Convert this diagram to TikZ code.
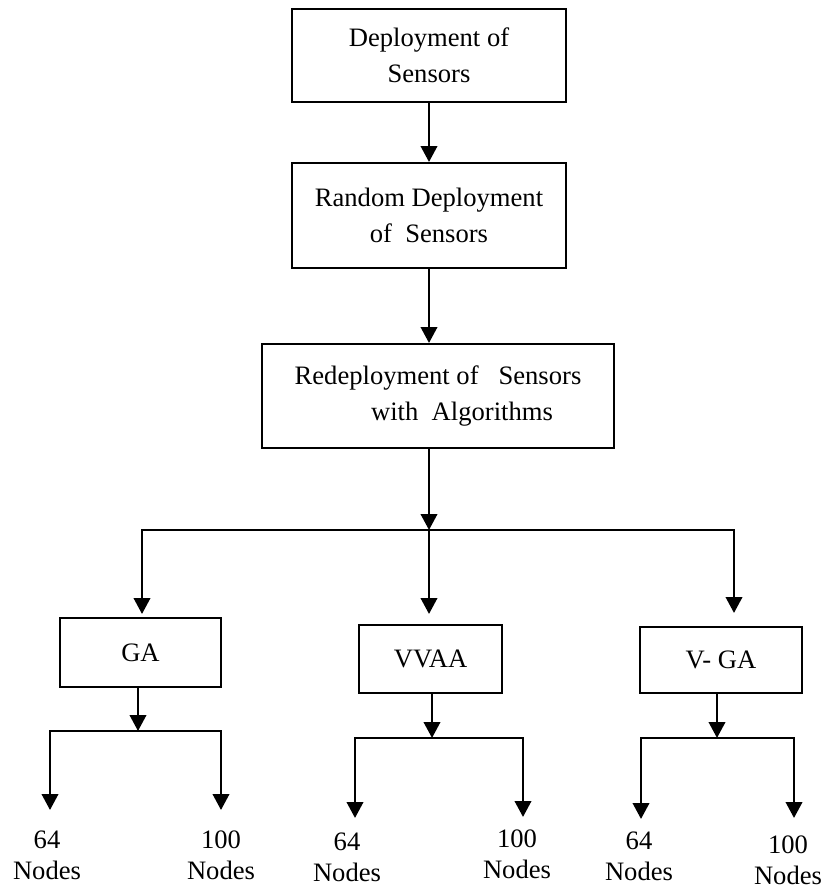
\documentclass[tikz,border=0pt]{standalone}
\usepackage{fontspec}
\setmainfont{Liberation Serif}
\usetikzlibrary{arrows.meta, positioning}

\begin{document}
\begin{tikzpicture}[
    x=0.5pt, y=-0.5pt,
    box/.style={
        rectangle,
        draw=black,
        line width=1pt,
        align=center,
        inner sep=0pt,
        font=\fontsize{13.3}{18}\selectfont
    },
    count/.style={
        align=center,
        inner sep=0pt,
        anchor=north,
        font=\fontsize{13.3}{15.5}\selectfont
    },
    line/.style={
        draw,
        -{Triangle[length=8pt,width=8.2pt]},
        line width=1.3pt
    },
    bar/.style={
        draw,
        line cap=rect,
        line width=1.3pt
    }
]
\useasboundingbox (0,0) rectangle (823,888);

% Nodes
\node [box, minimum width=137pt, minimum height=46.5pt] (deploy) at (429,55.5) {Deployment of\\Sensors};
\node [box, below=29.5pt of deploy, minimum width=137pt, minimum height=52.5pt] (random) {Random Deployment\\of~~Sensors};
\node [box, below=37pt of random, xshift=4.5pt, minimum width=176pt, minimum height=52pt] (redeploy) {Redeployment of~~~Sensors\\\hspace*{24pt}with~~Algorithms};

% Algorithm layer
\node [box, minimum width=80.5pt, minimum height=34.5pt] (ga) at (140.5,652.5) {GA};
\node [box, minimum width=71.5pt, minimum height=34pt] (vvaa) at (430.5,659) {VVAA};
\node [box, minimum width=81pt, minimum height=33pt] (vga) at (721,660) {V- GA};

% Node counts
\node [count] (ga64) at (47,830) {64\\Nodes};
\node [count] (ga100) at (221,830) {100\\Nodes};
\node [count] (vvaa64) at (347,832) {64\\Nodes};
\node [count] (vvaa100) at (517,829) {100\\Nodes};
\node [count] (vga64) at (639,831) {64\\Nodes};
\node [count] (vga100) at (788,835) {100\\Nodes};

% Junctions
\coordinate (split) at (429,530);
\coordinate (splitL) at (142,530);
\coordinate (splitR) at (734,530);
\coordinate (gaJ) at (138,731);
\coordinate (gaL) at (50,731);
\coordinate (gaR) at (221,731);
\coordinate (vvaaJ) at (432,738);
\coordinate (vvaaL) at (355,738);
\coordinate (vvaaR) at (523,738);
\coordinate (vgaJ) at (717,738);
\coordinate (vgaL) at (641,738);
\coordinate (vgaR) at (794,738);

% Connections
\path [line] (deploy) -- (random);
\path [line] (random.south) -- (random.south |- redeploy.north);
\path [line] (redeploy.south -| split) -- (split);

% Split to algorithms
\path [bar] (splitL) -- (splitR);
\path [line, shorten >=1.5pt] (splitL) -- (splitL |- ga.north);
\path [line, shorten >=5pt] (split) -- (split |- vvaa.north);
\path [line, shorten >=6.5pt] (splitR) -- (splitR |- vga.north);

% GA branch
\path [line] (gaJ |- ga.south) -- (gaJ);
\path [bar] (gaL) -- (gaR);
\path [line, shorten >=10pt] (gaL) -- (gaL |- ga64.north);
\path [line, shorten >=10pt] (gaR) -- (gaR |- ga100.north);

% VVAA branch
\path [line] (vvaaJ |- vvaa.south) -- (vvaaJ);
\path [bar] (vvaaL) -- (vvaaR);
\path [line, shorten >=7pt] (vvaaL) -- (vvaaL |- vvaa64.north);
\path [line, shorten >=6pt] (vvaaR) -- (vvaaR |- vvaa100.north);

% V-GA branch
\path [line] (vgaJ |- vga.south) -- (vgaJ);
\path [bar] (vgaL) -- (vgaR);
\path [line, shorten >=6pt] (vgaL) -- (vgaL |- vga64.north);
\path [line, shorten >=8.5pt] (vgaR) -- (vgaR |- vga100.north);

\end{tikzpicture}
\end{document}
